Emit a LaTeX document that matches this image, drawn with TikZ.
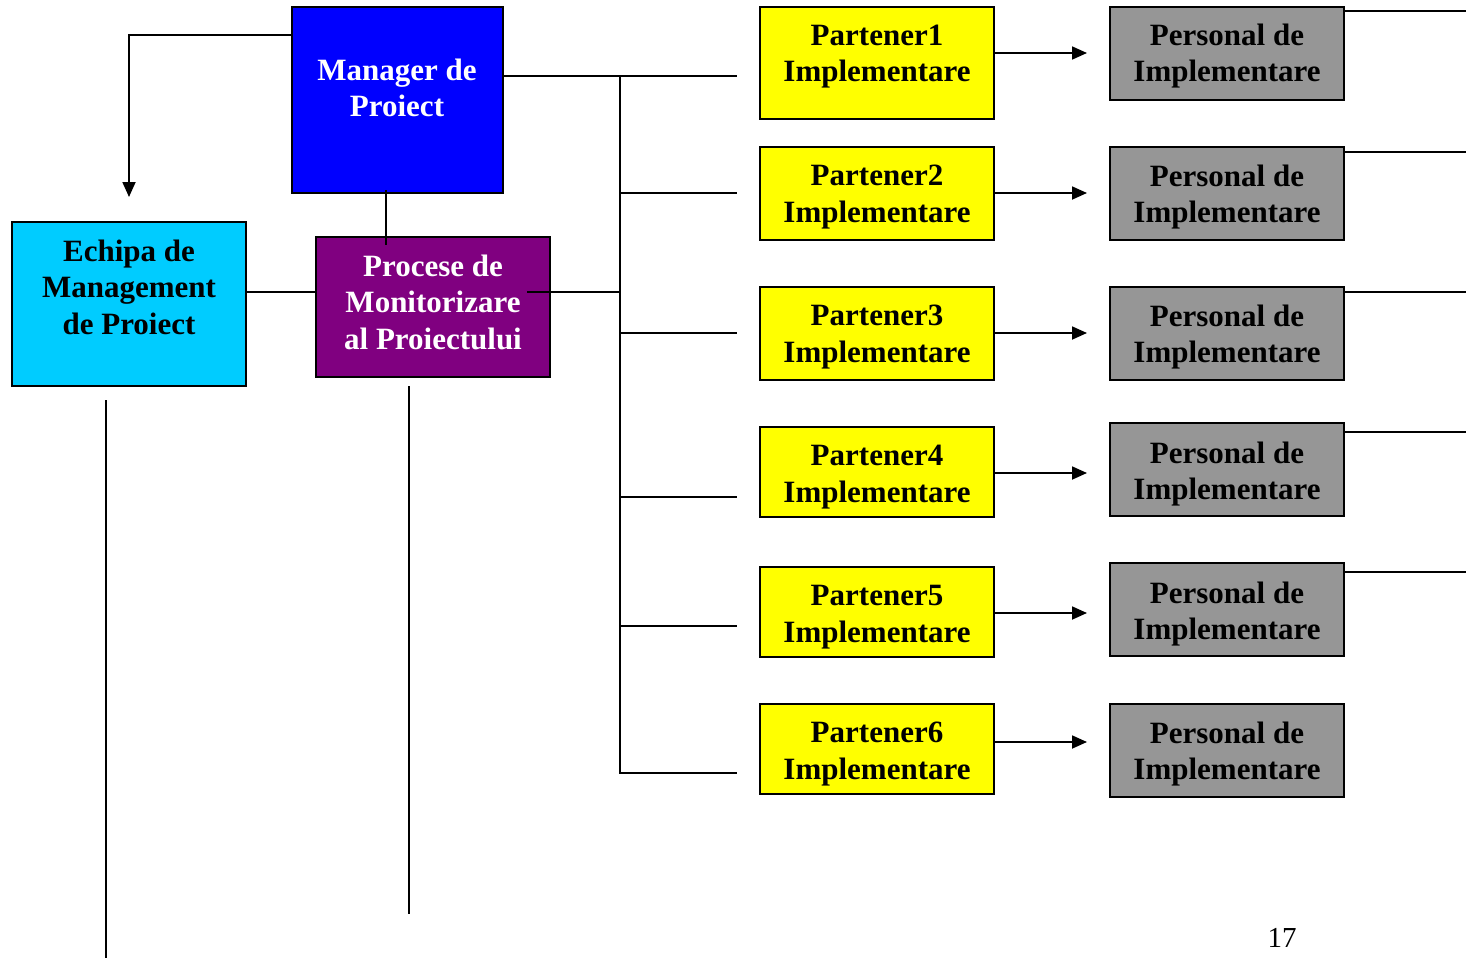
\documentclass[tikz,border=0pt]{standalone}
\usepackage{fontspec}
\setmainfont{Liberation Serif}
\usetikzlibrary{arrows.meta}
\definecolor{mblue}{RGB}{0,0,255}
\definecolor{mcyan}{RGB}{0,204,255}
\definecolor{mpurple}{RGB}{128,0,128}
\definecolor{myellow}{RGB}{255,255,0}
\definecolor{mgray}{RGB}{150,150,150}
\begin{document}
\begin{tikzpicture}[x=1pt,y=-1pt,line width=1.8pt,
  box/.style={draw=black,line width=1.8pt,inner sep=0pt,outer sep=0pt,anchor=north west},
  txt/.style={font=\fontsize{31}{36.5}\selectfont\bfseries,align=center,inner sep=0pt},
  arr/.style={-{Triangle[length=15pt,width=13pt]}}]
\useasboundingbox (0,0) rectangle (1466,958);
% main boxes
\node[box,fill=mblue,minimum width=211pt,minimum height=186pt] (mgr) at (292,7) {};
\node[txt,text=white,font=\fontsize{31}{35.5}\selectfont\bfseries] (mgrt) at (397,88) {Manager de\\Proiect};
\node[box,fill=mcyan,minimum width=234pt,minimum height=164pt] (ech) at (12,222) {};
\node[txt] (echt) at (129,287) {Echipa de\\Management\\de Proiect};
\node[box,fill=mpurple,minimum width=234pt,minimum height=140pt] (proc) at (316,237) {};
\node[txt,text=white] (proct) at (433,302) {Procese de\\Monitorizare\\al Proiectului};
% partner boxes
\foreach \i/\top/\h/\ty in {1/7/112/56.5, 2/147/93/197, 3/287/93/337, 4/427/90/477, 5/567/90/617, 6/704/90/754}{
  \node[box,fill=myellow,minimum width=234pt,minimum height=\h pt] (p\i) at (760,\top) {};
  \node[txt] (p\i t) at (877,\ty) {Partener\i\\Implementare};
}
\foreach \i/\top/\ty in {1/7/56, 2/147/197, 3/287/337, 4/423/474, 5/563/614, 6/704/754}{
  \node[box,fill=mgray,minimum width=234pt,minimum height=93pt] (q\i) at (1110,\top) {};
  \node[txt] (q\i t) at (1227,\ty) {Personal de\\Implementare};
}
% coordinates
\coordinate (busT) at (620,76);
\coordinate (busB) at (620,773);
\coordinate (e1) at (737,76);
\coordinate (e2) at (737,193);
\coordinate (e3) at (737,333);
\coordinate (e4) at (737,497);
\coordinate (e5) at (737,626);
\coordinate (e6) at (737,773);
\coordinate (pm) at (527,292);
\coordinate (mp) at (386,0);
\coordinate (ea) at (129,197);
\coordinate (l1) at (106,958);
\coordinate (l2) at (409,914);
\foreach \i/\y in {1/53,2/193,3/333,4/473,5/613,6/742}{\coordinate (a\i) at (1087,\y);}
\foreach \i/\y in {1/11,2/152,3/292,4/432,5/572}{\coordinate (r\i) at (1466,\y);}
% connectors
\draw (mgr.east |- busT) -- (e1);
\draw (busT) -- (busB) -- (e6);
\foreach \i in {2,3,4,5}{\draw (busT |- e\i) -- (e\i);}
\draw (pm) -- (busT |- pm);
\draw (ech.east |- pm) -- (proc.west |- pm);
\draw ([yshift=3pt]mgr.south -| mp) -- ([yshift=-8pt]proc.north -| mp);
\draw[arr] ([yshift=-28pt]mgr.north west) -| (ea);
\foreach \i in {1,...,6}{\draw[arr] (p\i.east |- a\i) -- (a\i);}
\foreach \i in {1,...,5}{\draw (q\i.east |- r\i) -- (r\i);}
\draw ([yshift=-14pt]ech.south -| l1) -- (l1);
\draw ([yshift=-9pt]proc.south -| l2) -- (l2);
\node[font=\fontsize{29}{34}\selectfont,inner sep=0pt] (pg) at (1282,938) {17};
\end{tikzpicture}
\end{document}
